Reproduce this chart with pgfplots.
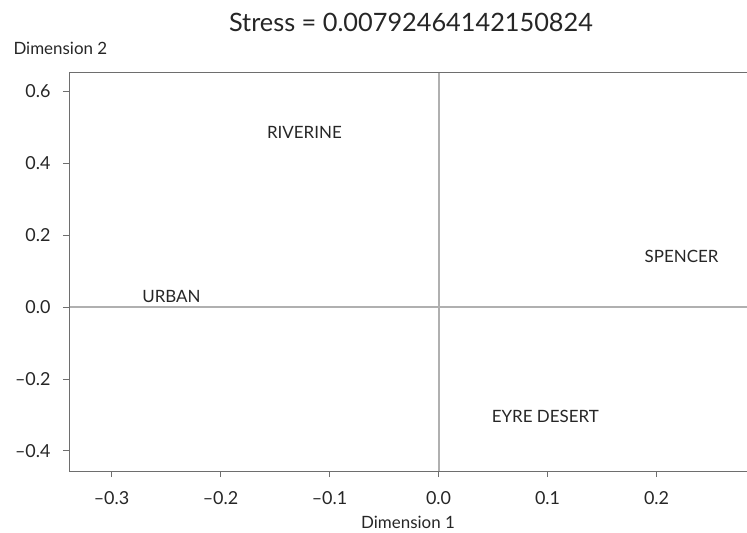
\documentclass[border=0pt]{standalone}
\usepackage{fontspec}
\setmainfont{Lato}
\usepackage{pgfplots}
\pgfplotsset{compat=1.18}
\definecolor{spine}{HTML}{6E6E6E}
\definecolor{zero}{HTML}{B0B0B0}
\definecolor{txt}{HTML}{262626}
\begin{document}
\begin{tikzpicture}
\begin{axis}[
  name=ax, scale only axis, width=678bp, height=398bp,
  xmin=-0.339, xmax=0.283, ymin=-0.456, ymax=0.651,
  axis line style={draw=none},
  xtick={-0.3,-0.2,-0.1,0,0.1,0.2},
  xticklabels={--0.3,--0.2,--0.1,0.0,0.1,0.2},
  ytick={-0.4,-0.2,0,0.2,0.4,0.6},
  yticklabels={--0.4,--0.2,0.0,0.2,0.4,0.6},
  xtick pos=left, ytick pos=left,
  tick align=outside, major tick length=6bp,
  tick style={spine, line width=0.8bp},
  ticklabel style={font=\fontsize{18}{21}\selectfont, text=txt},
  xticklabel style={yshift=-11bp},
  yticklabel style={xshift=-9bp},
  clip=false,
  title={Stress = 0.00792464142150824},
  title style={at={(rel axis cs:0.5,1)}, anchor=center, xshift=3bp, yshift=44.5bp, font=\fontsize{25.4}{30}\selectfont, text=txt},
  xlabel={Dimension 1}, ylabel={Dimension 2},
  every axis x label/.style={at={(rel axis cs:0.5,0)}, anchor=center, yshift=-51bp, font=\fontsize{17}{20}\selectfont, text=txt},
  every axis y label/.style={at={(rel axis cs:0,1)}, anchor=west, xshift=-59bp, yshift=25bp, font=\fontsize{17}{20}\selectfont, text=txt},
]
\draw[zero, line width=2bp] (axis cs:0,-0.456) -- (axis cs:0,0.651);
\draw[zero, line width=2bp] (axis cs:-0.339,0) -- (axis cs:0.283,0);
\draw[spine, line width=1bp] (rel axis cs:1,1) -- (rel axis cs:0,1) -- (rel axis cs:0,0) -- (rel axis cs:1,0);
\addplot[only marks, mark=none, nodes near coords, point meta=explicit symbolic,
  every node near coord/.append style={anchor=center, font=\fontsize{17}{20}\selectfont, text=txt}]
  table[col sep=comma, x=x, y=y, meta=label] {
x,y,label
-0.123,0.486,RIVERINE
0.223,0.142,SPENCER
-0.245,0.030,URBAN
0.098,-0.305,EYRE DESERT
};
\end{axis}
\pgfresetboundingbox
\path[use as bounding box] ([xshift=-69bp,yshift=-61bp]ax.south west) rectangle ([yshift=73bp]ax.north east);
\end{tikzpicture}
\end{document}
